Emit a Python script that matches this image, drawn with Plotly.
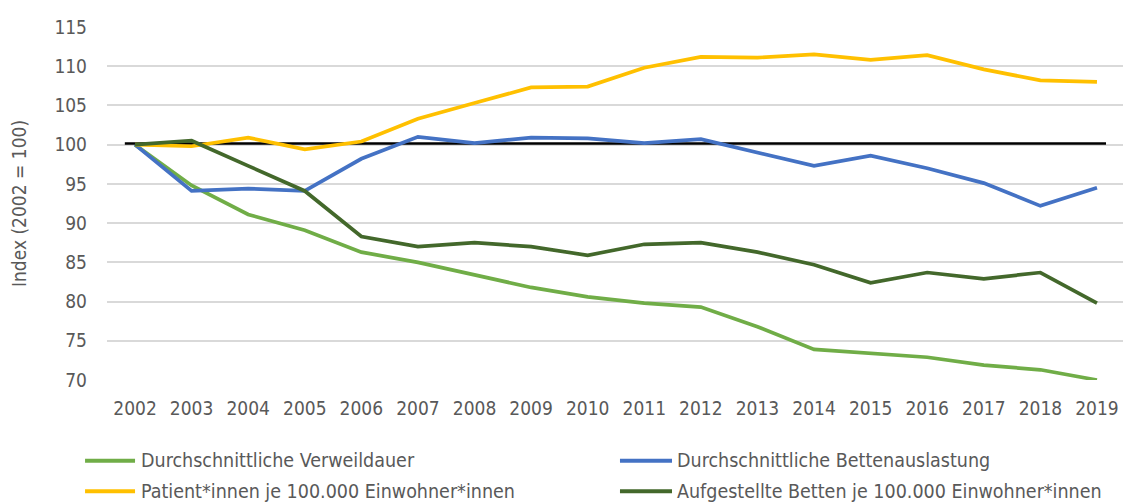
import plotly.graph_objects as go

# Index values (2002 = 100)
YEARS = list(range(2002, 2020))
VERWEILDAUER = [100, 94.8, 91.1, 89.1, 86.3, 85.0, 83.4, 81.8, 80.6, 79.8,
                79.3, 76.8, 73.9, 73.4, 72.9, 71.9, 71.3, 70.0]
BETTENAUSLASTUNG = [100, 94.1, 94.4, 94.1, 98.2, 101.0, 100.2, 100.9, 100.8, 100.2,
                    100.7, 99.0, 97.3, 98.6, 97.0, 95.1, 92.2, 94.5]
PATIENTEN = [100, 99.8, 100.9, 99.4, 100.4, 103.3, 105.3, 107.3, 107.4, 109.8,
             111.2, 111.1, 111.5, 110.8, 111.4, 109.6, 108.2, 108.0]
BETTEN = [100, 100.5, 97.3, 94.1, 88.3, 87.0, 87.5, 87.0, 85.9, 87.3,
          87.5, 86.3, 84.7, 82.4, 83.7, 82.9, 83.7, 79.8]
BASELINE = 100.15

SERIES = [
    ("Durchschnittliche Verweildauer", VERWEILDAUER, "#70AD47"),
    ("Durchschnittliche Bettenauslastung", BETTENAUSLASTUNG, "#4472C4"),
    ("Patient*innen je 100.000 Einwohner*innen", PATIENTEN, "#FFC000"),
    ("Aufgestellte Betten je 100.000 Einwohner*innen", BETTEN, "#43682B"),
]
Y_TICKS = list(range(70, 120, 5))

FONT = "DejaVu Sans Condensed, Liberation Sans Narrow, sans-serif"
TEXT_COLOR = "#595959"

fig = go.Figure()
for name, values, color in SERIES:
    fig.add_trace(go.Scatter(
        x=YEARS, y=values, name=name, mode="lines",
        line=dict(color=color, width=3.7), showlegend=False,
    ))

# Reference line at the base year level
fig.add_shape(type="line", layer="between",
              x0=YEARS[0] - 0.18, x1=YEARS[-1] + 0.16,
              y0=BASELINE, y1=BASELINE,
              line=dict(color="#000000", width=2.6))

# Two-column legend below the plot
col_x = [(-0.0216, 0.0276, 0.0315), (0.5049, 0.5561, 0.5590)]
row_y = [-0.229, -0.315]
for i, (name, values, color) in enumerate(SERIES):
    lx0, lx1, tx = col_x[i % 2]
    ly = row_y[i // 2]
    fig.add_shape(type="line", xref="paper", yref="paper",
                  x0=lx0, x1=lx1, y0=ly, y1=ly,
                  line=dict(color=color, width=4))
    fig.add_annotation(xref="paper", yref="paper", x=tx, y=ly,
                       text=name, showarrow=False, xanchor="left",
                       yanchor="middle",
                       font=dict(family=FONT, size=19.5, color=TEXT_COLOR))

fig.update_layout(
    width=1123, height=502,
    margin=dict(l=107, r=0, t=27, b=122),
    paper_bgcolor="white", plot_bgcolor="white",
    font=dict(family=FONT, size=19, color=TEXT_COLOR),
)
fig.update_xaxes(
    range=[2001.505, 2019.46], tickvals=YEARS,
    ticktext=[str(y) for y in YEARS],
    showgrid=False, zeroline=False, showline=False,
    ticks="", ticklabelstandoff=15,
    tickfont=dict(family=FONT, size=19, color=TEXT_COLOR),
)
fig.update_yaxes(
    range=[70, 115], tickvals=Y_TICKS,
    showgrid=True, gridcolor="#D9D9D9", gridwidth=1.5,
    zeroline=False, showline=False, ticks="", ticklabelstandoff=19,
    tickfont=dict(family=FONT, size=19, color=TEXT_COLOR),
    title=dict(text="Index (2002 = 100)", standoff=22,
               font=dict(family=FONT, size=19, color=TEXT_COLOR)),
)

fig.write_html("out.html")
